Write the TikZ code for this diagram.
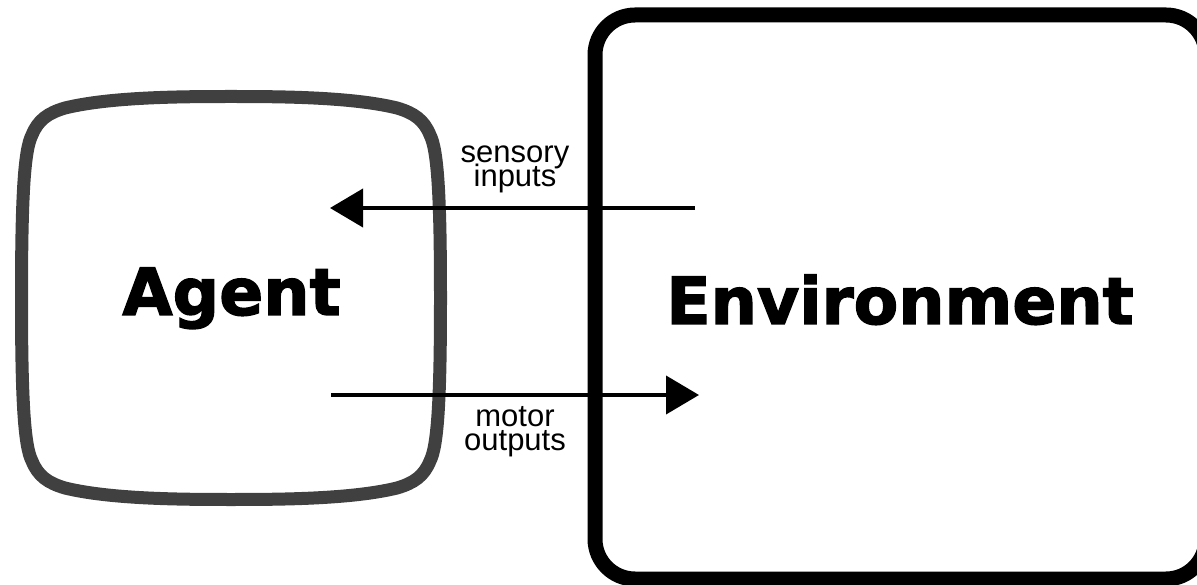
\documentclass[tikz,border=0pt]{standalone}
\usepackage{fontspec}
\setmainfont{Liberation Sans}
\newfontfamily\heavyfont{DejaVu Sans}[BoldFeatures={FakeBold=2}]
\usetikzlibrary{arrows.meta}

% tight two-line captions
\newcommand\captionsize{\fontsize{31}{24}\selectfont\lineskiplimit=-50pt\relax}

\begin{document}
\begin{tikzpicture}[x=1pt,y=-1pt,
    flow/.style={line width=4pt,-{Triangle[length=33pt,width=38pt]}},
    caption/.style={inner sep=0pt,align=center,font=\captionsize},
    title/.style={inner sep=0pt,font=\heavyfont\bfseries\fontsize{65}{78}\selectfont}]
    \useasboundingbox (0,0) rectangle (1197,585);
    \clip (0,0) rectangle (1197,585);

    % environment: runs off the right and bottom edges
    \draw[line width=15pt,rounded corners=40pt] (595,15) rectangle (1206,579);

    % agent: box with slightly bulging sides
    \draw[line width=13pt,draw=black!75]
        (21.5,298) .. controls (21.5,200) and (24,150) .. (32,135)
        .. controls (38,120) and (48,113) .. (65,108)
        .. controls (110,97) and (180,96.5) .. (231,96.5)
        .. controls (282,96.5) and (352,97) .. (397,108)
        .. controls (414,113) and (424,120) .. (430,135)
        .. controls (438,150) and (440.5,200) .. (440.5,298)
        .. controls (440.5,396) and (438,446) .. (430,461)
        .. controls (424,476) and (414,483) .. (397,488)
        .. controls (352,499) and (282,499.5) .. (231,499.5)
        .. controls (180,499.5) and (110,499) .. (65,488)
        .. controls (48,483) and (38,476) .. (32,461)
        .. controls (24,446) and (21.5,396) .. (21.5,298) -- cycle;

    \node[title,anchor=base] (agent) at (231.5,315) {Agent};
    \node[title,anchor=base] (env) at (900,324) {Environment};

    % base anchor sits on the last line
    \node[caption,anchor=base] (sensory) at (515,187) {sensory\\inputs};
    \node[caption,anchor=base] (motor) at (515,450) {motor\\outputs};

    \coordinate (sensefrom) at (695,208);
    \coordinate (sensein) at (330,208);
    \coordinate (motorfrom) at (331,395);
    \coordinate (motorto) at (699,395);

    \draw[flow] (sensefrom) -- (sensein);
    \draw[flow] (motorfrom) -- (motorto);
\end{tikzpicture}
\end{document}
